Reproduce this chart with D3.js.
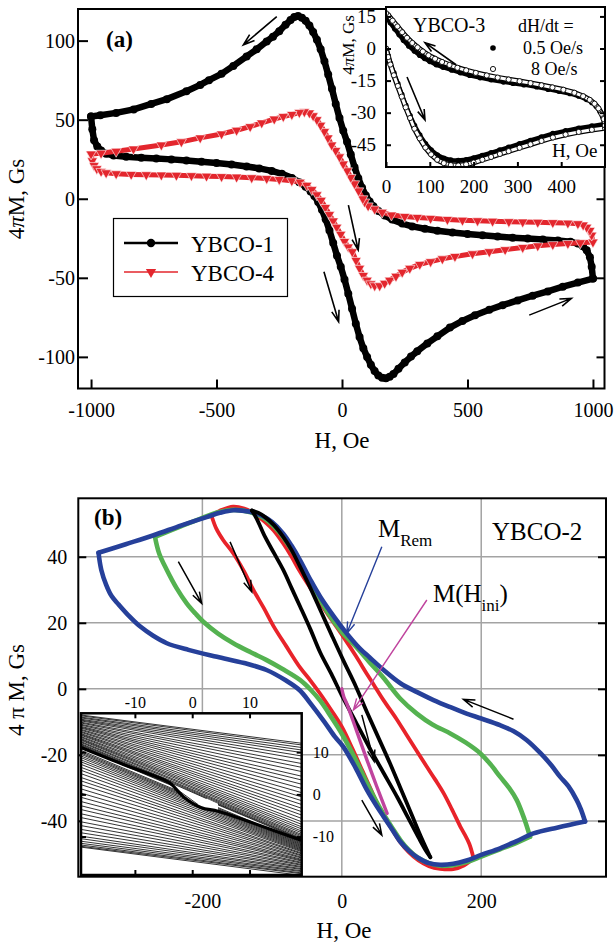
<!DOCTYPE html>
<html>
<head>
<meta charset="utf-8">
<script src="https://cdn.jsdelivr.net/npm/d3@7"></script>
<style>
body { margin: 0; background: #fff; }
svg { display: block; }
</style>
</head>
<body>
<script>
// ---------- panel (a): main loops, [H (Oe), 4piM (Gs)] ----------
var ybco1Asc = [[-1000,52],[-995,44],[-988,37],[-975,33],[-960,30.5],[-940,28.5],[-910,27.3],[-860,26.5],[-800,26],[-740,25.4],[-680,24.9],[-620,24.2],[-560,23.4],[-500,22.6],[-440,21.6],[-380,20.4],[-330,19.2],[-280,17.6],[-240,15.8],[-200,13.2],[-170,10.5],[-145,7.6],[-125,4.6],[-110,1.8],[-95,-2],[-80,-7],[-65,-13],[-50,-20],[-35,-28],[-20,-36],[-5,-43],[10,-51],[25,-60],[40,-69.5],[55,-79],[70,-87.5],[85,-94.5],[100,-100],[115,-105],[130,-109],[145,-111.8],[160,-113.2],[175,-113.5],[190,-112.6],[205,-110.8],[225,-107.5],[250,-103.5],[275,-99.8],[300,-96.4],[340,-91.5],[380,-87],[430,-81.5],[480,-77.3],[530,-73.7],[587,-70.2],[640,-67.3],[700,-64.3],[760,-61.3],[820,-58.6],[880,-55.6],[940,-53],[1000,-50.5]];
var ybco1Desc = [[1000,-50.5],[995,-43],[988,-37],[975,-32.5],[960,-30],[940,-28.3],[910,-27.2],[860,-26.4],[800,-25.8],[740,-25.2],[680,-24.6],[620,-23.9],[560,-23.1],[500,-22.3],[440,-21.3],[380,-20.2],[330,-19],[280,-17.5],[240,-15.7],[200,-13.2],[170,-10.6],[145,-7.7],[125,-4.7],[110,-1.8],[95,2],[80,7],[65,13],[50,20],[35,28],[20,36],[5,43],[-10,51],[-25,60],[-40,69.5],[-55,78.5],[-70,87],[-85,94.5],[-100,100.5],[-115,105.5],[-130,109.5],[-145,112.5],[-160,114.5],[-175,115.5],[-190,115],[-205,113],[-225,110],[-250,106],[-275,102.5],[-300,99.5],[-340,94.5],[-380,90],[-433,84],[-480,79],[-530,75],[-565,72],[-620,68],[-698,63],[-760,60],[-830,56.5],[-900,54.3],[-963,52.8],[-1000,52]];
var ybco4Asc = [[-1000,28.3],[-995,24],[-988,21],[-977,19],[-960,17.3],[-940,16.4],[-900,15.8],[-840,15.4],[-780,15.2],[-720,15],[-660,14.8],[-600,14.6],[-540,14.3],[-480,14],[-420,13.7],[-360,13.3],[-300,12.8],[-250,12.2],[-200,11.4],[-167,10.5],[-140,8.5],[-120,5.8],[-100,2.5],[-83,-1],[-66,-5.5],[-50,-10],[-35,-14],[-21,-18],[-5,-22.5],[10,-27],[25,-30.5],[41,-33.5],[56,-39],[70,-44],[85,-48.5],[100,-51.5],[115,-53.8],[130,-55],[150,-55],[170,-53.5],[190,-51.5],[215,-49],[240,-46.5],[270,-44],[310,-41.5],[353,-39.8],[400,-38],[450,-36.5],[520,-34.8],[587,-33.5],[650,-32.2],[720,-30.8],[780,-29.8],[840,-29],[900,-28.3],[950,-27.8],[1000,-27.4]];
var ybco4Desc = [[1000,-27.4],[995,-23],[988,-20],[975,-18],[961,-16.6],[940,-15.8],[900,-15.4],[840,-15.1],[780,-14.9],[720,-14.7],[665,-14.5],[600,-14.2],[540,-13.9],[480,-13.6],[420,-13.1],[353,-12.4],[300,-11.8],[250,-11.2],[197,-10.3],[160,-8.5],[130,-6.5],[104,-4.5],[90,-2],[83,0],[66,5],[50,9.5],[35,13.5],[21,17.7],[5,22],[-10,26.5],[-25,30.5],[-41,34],[-56,38.5],[-70,42.5],[-85,46.5],[-100,50],[-115,52.5],[-130,54.3],[-150,55],[-170,54.5],[-200,53.3],[-234,52],[-270,50.4],[-320,48],[-366,45.6],[-420,43.3],[-480,41],[-565,38.5],[-640,36],[-720,34],[-831,31.5],[-900,30],[-960,28.8],[-1000,28.3]];
var xTicksA = [-1000, -500, 0, 500, 1000];
var yTicksA = [-100, -50, 0, 50, 100];
var seriesA = ['YBCO-1', 'YBCO-4'];

// ---------- panel (a) inset: YBCO-3 at two sweep rates ----------
var slowUp = [[0,0],[5,-3.5],[10,-7],[18,-11.5],[27,-16.5],[36,-21.5],[45,-26.5],[55,-31.5],[65,-36],[77,-40.5],[90,-44.5],[103,-47.5],[117,-49.8],[132,-51.3],[148,-52.2],[165,-52.4],[183,-52],[200,-51.2],[220,-50],[240,-48.8],[260,-47.5],[280,-46.2],[305,-44.6],[330,-43],[355,-41.4],[381,-39.8],[410,-38.5],[440,-37.3],[470,-36.3],[500,-35.3]];
var slowDown = [[500,-33.6],[495,-31.5],[489,-29.6],[480,-27],[470,-25.2],[458,-23.8],[440,-22.2],[420,-21],[395,-20],[370,-19],[344,-17.9],[315,-16.9],[290,-16.2],[268,-15.6],[240,-14.6],[215,-13.6],[191,-12.5],[170,-11.3],[150,-10],[130,-8.7],[115,-7.6],[100,-6],[88,-4.6],[77,-3.1],[65,-1.2],[52,1.2],[40,3.9],[30,6.5],[20,9.2],[10,12],[0,15]];
var fastUp = [[0,0],[5,-4],[10,-7.5],[18,-12.5],[27,-17.5],[36,-22.5],[45,-27.5],[55,-32.5],[65,-37.5],[77,-42],[90,-46.3],[103,-49.5],[117,-52],[132,-53.6],[148,-54.5],[165,-54.7],[183,-54.2],[200,-53.3],[220,-52],[240,-50.7],[260,-49.3],[280,-48],[305,-46.4],[330,-44.8],[355,-43.2],[381,-41.6],[410,-40.2],[440,-39],[470,-38],[500,-37.2]];
var fastDown = [[500,-36],[497,-33],[492,-30.5],[485,-28],[476,-25.8],[465,-24],[450,-22.3],[430,-20.7],[405,-19.3],[380,-18.2],[355,-17.2],[330,-16.2],[305,-15.3],[280,-14.5],[255,-13.6],[230,-12.6],[205,-11.4],[183,-10.2],[163,-9],[145,-7.7],[128,-6.3],[112,-4.8],[97,-3.2],[84,-1.4],[72,0.5],[60,2.6],[48,5],[37,7.6],[26,10.3],[15,13],[5,15.5],[0,16.5]];
var xTicksInA = [0, 100, 200, 300, 400];
var yTicksInA = [-45, -30, -15, 0, 15];

// ---------- panel (b): YBCO-2 loops ----------
var blueAsc = [[-349,41.2],[-345,36],[-338,31.5],[-330,28],[-320,25.5],[-305,22],[-290,19],[-270,16],[-251,13.8],[-220,11.8],[-179,9.7],[-140,7.8],[-108,5.7],[-80,2.5],[-60,-0.5],[-45,-4.4],[-25,-10],[-10,-14.5],[2,-17.5],[20,-24],[36,-30.6],[50,-35.5],[60,-38.7],[72,-42.5],[84,-46.3],[96,-49],[108,-51],[125,-52.8],[141,-53.3],[160,-53],[179,-52],[200,-50.3],[227,-48.3],[250,-46.2],[275,-43.8],[310,-42],[349,-40.2]];
var blueDesc = [[349,-40.2],[343,-36.5],[337,-33.7],[325,-29.5],[313,-26.6],[300,-23],[285,-19.5],[265,-15.5],[246,-12.8],[227,-11],[200,-9],[179,-7.5],[155,-5.5],[131.5,-3.4],[108,-1],[84,1.7],[60,5.7],[40,9.5],[26,12.2],[7,16.8],[-10,21.5],[-31,27.9],[-45,33],[-60,39],[-72,43.3],[-84,47],[-100,50.5],[-115,52.5],[-131.7,53.6],[-155.6,54.1],[-175,53.3],[-194,52],[-230,49.5],[-270,46.5],[-310,43.8],[-349,41.2]];
var greenAsc = [[-268,46],[-262,41],[-251,36],[-237,30.5],[-222.5,25.9],[-210,22.8],[-198.6,20.3],[-178,16.8],[-155.6,13.8],[-130,11],[-107.8,8.7],[-85,6],[-60,2.7],[-45,-0.2],[-31,-3.6],[-15,-8.6],[0,-13.6],[20,-21.5],[36,-28.5],[50,-34.3],[60,-38],[72,-42],[84,-45.8],[96,-48.8],[108,-51],[125,-52.8],[141,-53.6],[160,-53.4],[179,-52.5],[200,-50.8],[227,-48.6],[250,-46.7],[270,-44.8]];
var greenDesc = [[270,-44.8],[262,-39.5],[251,-33.7],[240,-30],[227,-26.6],[213,-22.8],[198.5,-19.5],[178,-16.3],[155.6,-13.5],[130,-10.8],[107.6,-7.5],[84,-3],[60,3.3],[40,8],[20,12.8],[0,17.2],[-20,23],[-40,30.5],[-60,38],[-75,43],[-90,47.5],[-110,51.5],[-131,53.5],[-156,54.2],[-180,53.3],[-200,51.8],[-230,49.3],[-268,46]];
var redAsc = [[-187,52.5],[-180,48.5],[-170,45],[-155.6,41],[-140,35.5],[-127,30],[-112,24.5],[-98,19],[-80,13],[-60,6.5],[-45,2.5],[-31,-1.5],[-15,-6.5],[0,-11.5],[15,-18],[30,-25],[45,-32],[60,-38.5],[72,-42.5],[84,-46.5],[96,-49.5],[110,-52],[125,-53.7],[141,-54.5],[160,-54.6],[175,-53.5],[189,-51.3]];
var redDesc = [[189,-51.3],[183,-47],[176,-44],[170,-41.7],[158,-36.5],[146,-31.6],[134,-27.5],[122,-23.6],[108,-19],[93,-14],[78,-9],[60,-3.5],[48,0.5],[36,4.5],[20,10],[2,15.8],[-15,21],[-31,26],[-45,30.5],[-60,35.5],[-72,40],[-84,44],[-98,48],[-110,50.5],[-125,53],[-140,54.6],[-156,55.2],[-172,54.2],[-187,52.5]];
var blackAsc = [[-129,54],[-122,51.5],[-110,46],[-97,41],[-84,36],[-72,30.5],[-60,25],[-45,18],[-31,11],[-15,4.5],[0,-2],[20,-10],[40,-18],[60,-25.5],[80,-33],[95,-39],[110,-45],[120,-48.8],[127,-51]];
var blackDesc = [[127,-51],[115,-45.5],[100,-38],[85,-30.5],[70,-23],[53,-15],[36,-7],[20,0.8],[2,8.7],[-15,16.5],[-30,23.5],[-45,30.5],[-60,37],[-72,42],[-84,46],[-97,49.5],[-110,52],[-120,53.3],[-129,54]];
var mIni = [[0,0],[3,-2.5],[7,-4.4],[20,-12],[36,-21.5],[50,-29.5],[65,-37.7]];
var xTicksB = [-200, 0, 200];
var yTicksB = [-40, -20, 0, 20, 40];

// ---------- panel (b) inset: minor loops ----------
var inEdge = [-19.4, 19.1];
var upperLeft = [18.8,18.6,18.3,18.1,17.8,17.6,17.4,17.1,16.9,16.6,16.4,16.1,15.9,15.7,15.4,15.2,14.9,14.7,14.4,14.2,14.0,13.7,13.5,13.2,13.0,12.8,12.5,12.3,12.0,11.8,11.6,11.4,11.2,11.1];
var upperRight = [12.1,11.7,11.1,10.5,9.9,9.1,8.3,7.3,6.4,5.4,4.3,3.4,2.4,1.4,0.4,-0.6,-1.5,-2.4,-3.3,-4.1,-4.9,-5.7,-6.5,-7.1,-7.7,-8.2,-8.7,-9.1,-9.5,-9.8,-10.1,-10.4,-10.6,-10.8];
var lowerLeft = [10.4,10.1,9.8,9.5,9.1,8.7,8.2,7.7,7.1,6.4,5.7,4.9,4.0,3.2,2.3,1.3,0.3,-0.7,-1.7,-2.7,-3.6,-4.6,-5.5,-6.5,-7.4,-8.3,-9.1,-9.9,-10.5,-11.1,-11.6,-12.0,-12.3,-12.5];
var lowerRight = [-11.4,-11.6,-11.8,-12.0,-12.2,-12.4,-12.6,-12.8,-13.0,-13.2,-13.4,-13.6,-13.9,-14.1,-14.4,-14.6,-14.9,-15.1,-15.4,-15.6,-15.8,-16.1,-16.3,-16.6,-16.8,-17.1,-17.3,-17.6,-17.8,-18.1,-18.3,-18.6,-18.8,-19.2];
var band = [[-19.4,11.1],[-12,7.1],[-7,4.6],[-4,2.8],[-1.5,-0.6],[1.5,-3.1],[4.5,-4.0],[10,-6.5],[19.1,-10.9]];
var lensLines = [[[-6.5,4.4],[2.5,-1.0]], [[-5.5,4.0],[1.0,-2.4]]];
var xTicksInB = [-10, 0, 10];
var yTicksInB = [-10, 0, 10];

var FONT = '"Liberation Serif", "Times New Roman", serif';
var svg = d3.select('body').append('svg').attr('width', 614).attr('height', 943)
    .style('font-family', FONT);

function styleAxis(g, fs) {
    g.attr('font-family', null).attr('font-size', null);
    g.select('.domain').remove();
    g.selectAll('line').attr('stroke', '#000').attr('stroke-width', 2);
    g.selectAll('text').attr('fill', '#000').style('font-size', fs + 'px').style('font-family', FONT);
}

function arrow(g, x, y, p0, p1, color, w, L) {
    var x0 = x(p0[0]), y0 = y(p0[1]), x1 = x(p1[0]), y1 = y(p1[1]);
    var a = Math.atan2(y1 - y0, x1 - x0), s = 0.32;
    g.append('path')
        .attr('d', 'M' + x0 + ',' + y0 + 'L' + x1 + ',' + y1 +
            'M' + (x1 - L * Math.cos(a - s)) + ',' + (y1 - L * Math.sin(a - s)) +
            'L' + x1 + ',' + y1 +
            'L' + (x1 - L * Math.cos(a + s)) + ',' + (y1 - L * Math.sin(a + s)))
        .attr('fill', 'none').attr('stroke', color).attr('stroke-width', w);
}

// ================= panel (a) =================
var xA = d3.scaleLinear().domain([-1052, 1046]).range([78, 604.5]);
var yA = d3.scaleLinear().domain([-120, 120]).range([388.5, 9]);
var lineA = d3.line().x(function (d) { return xA(d[0]); }).y(function (d) { return yA(d[1]); });

svg.append('clipPath').attr('id', 'clipA').append('rect')
    .attr('x', 78).attr('y', 9).attr('width', 526.5).attr('height', 379.5);
var gA = svg.append('g').attr('clip-path', 'url(#clipA)');

var triangle = d3.symbol().type(d3.symbolTriangle).size(46);

[ybco1Asc, ybco1Desc].forEach(function (s) {
    gA.append('path').attr('d', lineA(s)).attr('fill', 'none').attr('stroke', '#000')
        .attr('stroke-width', 6.5).attr('stroke-linejoin', 'round');
    gA.selectAll(null).data(s).enter().append('circle')
        .attr('cx', function (d) { return xA(d[0]); })
        .attr('cy', function (d) { return yA(d[1]); })
        .attr('r', 4).attr('fill', '#000');
});
[ybco4Asc, ybco4Desc].forEach(function (s) {
    gA.append('path').attr('d', lineA(s)).attr('fill', 'none').attr('stroke', '#e3262d')
        .attr('stroke-width', 5).attr('stroke-linejoin', 'round');
    gA.selectAll(null).data(s).enter().append('path')
        .attr('d', triangle)
        .attr('transform', function (d) { return 'translate(' + xA(d[0]) + ',' + yA(d[1]) + ') rotate(180)'; })
        .attr('fill', '#e3262d').attr('stroke', '#fff').attr('stroke-width', 0.6);
});

// arrows in panel (a)
var arrowsA = [[[-260, 115.2], [-393, 97.3]], [[-72, -46.2], [-13.5, -77.8]], [[25.5, -4], [64.5, -32.4]], [[746, -73.6], [914, -63]]];
arrowsA.forEach(function (a) { arrow(svg, xA, yA, a[0], a[1], '#000', 1.6, 12); });

svg.append('rect').attr('x', 78).attr('y', 9).attr('width', 526.5).attr('height', 379.5)
    .attr('fill', 'none').attr('stroke', '#000').attr('stroke-width', 2);

svg.append('g').attr('transform', 'translate(0,388.5)')
    .call(d3.axisBottom(xA).tickValues(xTicksA).tickSize(-9).tickPadding(14).tickFormat(String))
    .call(styleAxis, 20);
svg.append('g').attr('transform', 'translate(78,0)')
    .call(d3.axisLeft(yA).tickValues(yTicksA).tickSize(-10).tickPadding(3).tickFormat(String))
    .call(styleAxis, 20);
svg.append('g').attr('transform', 'translate(604.5,0)')
    .call(d3.axisRight(yA).tickValues(yTicksA).tickSize(-8).tickFormat(''))
    .call(styleAxis, 20);

svg.append('text').attr('x', 342).attr('y', 448).attr('text-anchor', 'middle')
    .style('font-size', '23px').text('H, Oe');
var yLabA = svg.append('text').attr('transform', 'translate(24,199) rotate(-90)')
    .attr('text-anchor', 'middle').style('font-size', '23px');
yLabA.append('tspan').text('4');
yLabA.append('tspan').style('font-style', 'italic').text('π');
yLabA.append('tspan').text('M, Gs');
svg.append('text').attr('x', 106).attr('y', 47).style('font-size', '23px')
    .style('font-weight', 'bold').text('(a)');

// legend (a)
var legA = svg.append('g');
legA.append('rect').attr('x', 113.5).attr('y', 218.5).attr('width', 174).attr('height', 78)
    .attr('fill', '#fff').attr('stroke', '#000').attr('stroke-width', 1.2);
seriesA.forEach(function (name, i) {
    var yy = 243 + i * 29;
    var col = i === 0 ? '#000' : '#e3262d';
    legA.append('line').attr('x1', 124).attr('x2', 178).attr('y1', yy).attr('y2', yy)
        .attr('stroke', col).attr('stroke-width', i === 0 ? 2.6 : 1.4);
    if (i === 0) {
        legA.append('circle').attr('cx', 151).attr('cy', yy).attr('r', 4.2).attr('fill', '#000');
    } else {
        legA.append('path').attr('d', triangle)
            .attr('transform', 'translate(151,' + yy + ') rotate(180)').attr('fill', col);
    }
    legA.append('text').attr('x', 191).attr('y', yy + 8.5).style('font-size', '23px').text(name);
});

// ================= panel (a) inset =================
var xI = d3.scaleLinear().domain([0, 500]).range([386, 605]);
var yI = d3.scaleLinear().domain([-55.4, 19.4]).range([167, 7]);
var lineI = d3.line().x(function (d) { return xI(d[0]); }).y(function (d) { return yI(d[1]); });
svg.append('clipPath').attr('id', 'clipI').append('rect')
    .attr('x', 386).attr('y', 7).attr('width', 219).attr('height', 160);
var gI = svg.append('g').attr('clip-path', 'url(#clipI)');
gI.append('rect').attr('x', 386).attr('y', 7).attr('width', 219).attr('height', 160).attr('fill', '#fff');

[slowUp, slowDown].forEach(function (s) {
    gI.append('path').attr('d', lineI(s)).attr('fill', 'none').attr('stroke', '#000')
        .attr('stroke-width', 4.5).attr('stroke-linejoin', 'round');
    gI.selectAll(null).data(s).enter().append('circle')
        .attr('cx', function (d) { return xI(d[0]); }).attr('cy', function (d) { return yI(d[1]); })
        .attr('r', 2.8).attr('fill', '#000');
});
[fastUp, fastDown].forEach(function (s) {
    gI.append('path').attr('d', lineI(s)).attr('fill', 'none').attr('stroke', '#000')
        .attr('stroke-width', 5.5).attr('stroke-linejoin', 'round');
    gI.append('path').attr('d', lineI(s)).attr('fill', 'none').attr('stroke', '#fff')
        .attr('stroke-width', 3).attr('stroke-linejoin', 'round');
    gI.selectAll(null).data(s).enter().append('circle')
        .attr('cx', function (d) { return xI(d[0]); }).attr('cy', function (d) { return yI(d[1]); })
        .attr('r', 2.6).attr('fill', '#fff').attr('stroke', '#000').attr('stroke-width', 0.9);
});
arrow(svg, xI, yI, [160, -7.6], [89, 2.7], '#000', 1.6, 11);
arrow(svg, xI, yI, [48, -13.3], [89, -33.4], '#000', 1.6, 11);

svg.append('rect').attr('x', 386).attr('y', 7).attr('width', 219).attr('height', 160)
    .attr('fill', 'none').attr('stroke', '#000').attr('stroke-width', 2);
svg.append('g').attr('transform', 'translate(0,167)')
    .call(d3.axisBottom(xI).tickValues(xTicksInA).tickSize(-5).tickPadding(13).tickFormat(String))
    .call(styleAxis, 19);
svg.append('g').attr('transform', 'translate(386,0)')
    .call(d3.axisLeft(yI).tickValues(yTicksInA).tickSize(-5).tickPadding(10).tickFormat(String))
    .call(styleAxis, 19);
svg.append('g').attr('transform', 'translate(605,0)')
    .call(d3.axisRight(yI).tickValues(yTicksInA).tickSize(-5).tickFormat(''))
    .call(styleAxis, 19);

var yLabI = svg.append('text').attr('transform', 'translate(354,45) rotate(-90)')
    .attr('text-anchor', 'middle').style('font-size', '17px');
yLabI.append('tspan').text('4');
yLabI.append('tspan').style('font-style', 'italic').text('π');
yLabI.append('tspan').text('M, Gs');
svg.append('text').attr('x', 413).attr('y', 32).style('font-size', '20px').text('YBCO-3');
svg.append('text').attr('x', 518).attr('y', 32).style('font-size', '18px').text('dH/dt =');
svg.append('circle').attr('cx', 493).attr('cy', 48).attr('r', 2.8).attr('fill', '#000');
svg.append('text').attr('x', 523).attr('y', 54).style('font-size', '18px').text('0.5 Oe/s');
svg.append('circle').attr('cx', 493).attr('cy', 69).attr('r', 2.6).attr('fill', '#fff')
    .attr('stroke', '#000').attr('stroke-width', 0.9);
svg.append('text').attr('x', 531).attr('y', 75).style('font-size', '18px').text('8 Oe/s');
svg.append('text').attr('x', 552).attr('y', 157).style('font-size', '19px').text('H, Oe');

// ================= panel (b) =================
var xB = d3.scaleLinear().domain([-378, 379]).range([78.3, 606]);
var yB = d3.scaleLinear().domain([-56.9, 57.7]).range([876.7, 498.3]);
var lineB = d3.line().curve(d3.curveCatmullRom).x(function (d) { return xB(d[0]); }).y(function (d) { return yB(d[1]); });

svg.append('clipPath').attr('id', 'clipB').append('rect')
    .attr('x', 78.3).attr('y', 498.3).attr('width', 527.7).attr('height', 378.4);
var gB = svg.append('g').attr('clip-path', 'url(#clipB)');

// grid
gB.selectAll(null).data(xTicksB).enter().append('line')
    .attr('x1', function (d) { return xB(d); }).attr('x2', function (d) { return xB(d); })
    .attr('y1', 498).attr('y2', 877).attr('stroke', '#a3a3a3').attr('stroke-width', 1.5);
gB.selectAll(null).data(yTicksB).enter().append('line')
    .attr('y1', function (d) { return yB(d); }).attr('y2', function (d) { return yB(d); })
    .attr('x1', 78).attr('x2', 606).attr('stroke', '#a3a3a3').attr('stroke-width', 1.5);

var loopsB = [
    { c: '#e8232a', w: 3.8, d: [redAsc, redDesc] },
    { c: '#54b250', w: 4.6, d: [greenAsc, greenDesc] },
    { c: '#26409a', w: 4.6, d: [blueAsc, blueDesc] },
    { c: '#000', w: 3.8, d: [blackAsc, blackDesc] },
    { c: '#c0449e', w: 3.4, d: [mIni] }
];
loopsB.forEach(function (l) {
    l.d.forEach(function (s) {
        gB.append('path').attr('d', lineB(s)).attr('fill', 'none').attr('stroke', l.c)
            .attr('stroke-width', l.w).attr('stroke-linejoin', 'round').attr('stroke-linecap', 'round');
    });
});

var arrowsB = [[[-234.5, 38.5], [-201, 25.9]], [[-160.3, 44.5], [-129.2, 29.4]], [[246.3, -9.2], [174.5, -3.2]], [[28.7, -7.9], [46.4, -22]], [[28.7, -33.7], [57.4, -44.3]]];
arrowsB.forEach(function (a) { arrow(svg, xB, yB, a[0], a[1], '#000', 1.5, 12); });
arrow(svg, xB, yB, [57.4, 43], [7.2, 16.8], '#26409a', 1.4, 12);
arrow(svg, xB, yB, [122, 26.9], [16.7, -6.4], '#c0449e', 1.4, 12);

svg.append('rect').attr('x', 78.3).attr('y', 498.3).attr('width', 527.7).attr('height', 378.4)
    .attr('fill', 'none').attr('stroke', '#000').attr('stroke-width', 2);
svg.append('g').attr('transform', 'translate(0,876.7)')
    .call(d3.axisBottom(xB).tickValues(xTicksB).tickSize(0).tickPadding(17).tickFormat(String))
    .call(styleAxis, 20);
svg.append('g').attr('transform', 'translate(78.3,0)')
    .call(d3.axisLeft(yB).tickValues(yTicksB).tickSize(-8).tickPadding(11).tickFormat(String))
    .call(styleAxis, 20);
svg.append('g').attr('transform', 'translate(606,0)')
    .call(d3.axisRight(yB).tickValues(yTicksB).tickSize(-8).tickFormat(''))
    .call(styleAxis, 20);

svg.append('text').attr('x', 344).attr('y', 938).attr('text-anchor', 'middle')
    .style('font-size', '23px').text('H, Oe');
svg.append('text').attr('transform', 'translate(24,690) rotate(-90)')
    .attr('text-anchor', 'middle').style('font-size', '23px').text('4 π M, Gs');
svg.append('text').attr('x', 94).attr('y', 525).style('font-size', '23px')
    .style('font-weight', 'bold').text('(b)');
svg.append('text').attr('x', 492).attr('y', 540).style('font-size', '25px').text('YBCO-2');
var mRem = svg.append('text').attr('x', 378).attr('y', 537).style('font-size', '25px');
mRem.append('tspan').text('M');
mRem.append('tspan').attr('dy', 9).style('font-size', '17px').text('Rem');
var mIniT = svg.append('text').attr('x', 433).attr('y', 602).style('font-size', '25px');
mIniT.append('tspan').text('M(H');
mIniT.append('tspan').attr('dy', 9).style('font-size', '17px').text('ini');
mIniT.append('tspan').attr('dy', -9).text(')');

// ================= panel (b) inset =================
var xN = d3.scaleLinear().domain([-19.4, 19.1]).range([81, 301.7]);
var yN = d3.scaleLinear().domain([-19.1, 19.2]).range([875, 713.3]);
var lineN = d3.line().curve(d3.curveCatmullRom).x(function (d) { return xN(d[0]); }).y(function (d) { return yN(d[1]); });
svg.append('clipPath').attr('id', 'clipN').append('rect')
    .attr('x', 81).attr('y', 713.3).attr('width', 220.7).attr('height', 161.7);
svg.append('rect').attr('x', 81).attr('y', 713.3).attr('width', 220.7).attr('height', 161.7).attr('fill', '#fff');
var gN = svg.append('g').attr('clip-path', 'url(#clipN)');
upperLeft.forEach(function (v, i) {
    gN.append('line').attr('x1', xN(inEdge[0])).attr('y1', yN(v))
        .attr('x2', xN(inEdge[1])).attr('y2', yN(upperRight[i]))
        .attr('stroke', '#000').attr('stroke-width', 0.8);
});
lowerLeft.forEach(function (v, i) {
    gN.append('line').attr('x1', xN(inEdge[0])).attr('y1', yN(v))
        .attr('x2', xN(inEdge[1])).attr('y2', yN(lowerRight[i]))
        .attr('stroke', '#000').attr('stroke-width', 0.8);
});
// white lens between the upper lines and the band, crossed by a few lines
gN.append('path')
    .attr('d', lineN(band.slice(2, 7)) + 'L' + xN(4.5) + ',' + yN(-2.2) + 'L' + xN(-7) + ',' + yN(4.9) + 'Z')
    .attr('fill', '#fff');
lensLines.forEach(function (l) {
    gN.append('line').attr('x1', xN(l[0][0])).attr('y1', yN(l[0][1]))
        .attr('x2', xN(l[1][0])).attr('y2', yN(l[1][1])).attr('stroke', '#000').attr('stroke-width', 0.8);
});
gN.append('path').attr('d', lineN(band)).attr('fill', 'none').attr('stroke', '#000').attr('stroke-width', 3.2);

svg.append('rect').attr('x', 81).attr('y', 713.3).attr('width', 220.7).attr('height', 161.7)
    .attr('fill', 'none').attr('stroke', '#000').attr('stroke-width', 2.5);
svg.append('g').attr('transform', 'translate(0,713.3)')
    .call(d3.axisTop(xN).tickValues(xTicksInB).tickSize(-5).tickPadding(5).tickFormat(String))
    .call(styleAxis, 16);
svg.append('g').attr('transform', 'translate(0,875)')
    .call(d3.axisBottom(xN).tickValues(xTicksInB).tickSize(-5).tickFormat(''))
    .call(styleAxis, 16);
svg.append('g').attr('transform', 'translate(81,0)')
    .call(d3.axisLeft(yN).tickValues(yTicksInB).tickSize(-5).tickFormat(''))
    .call(styleAxis, 16);
svg.append('g').attr('transform', 'translate(301.7,0)')
    .call(d3.axisRight(yN).tickValues(yTicksInB).tickSize(-5).tickPadding(11).tickFormat(String))
    .call(styleAxis, 16);
</script>
</body>
</html>
